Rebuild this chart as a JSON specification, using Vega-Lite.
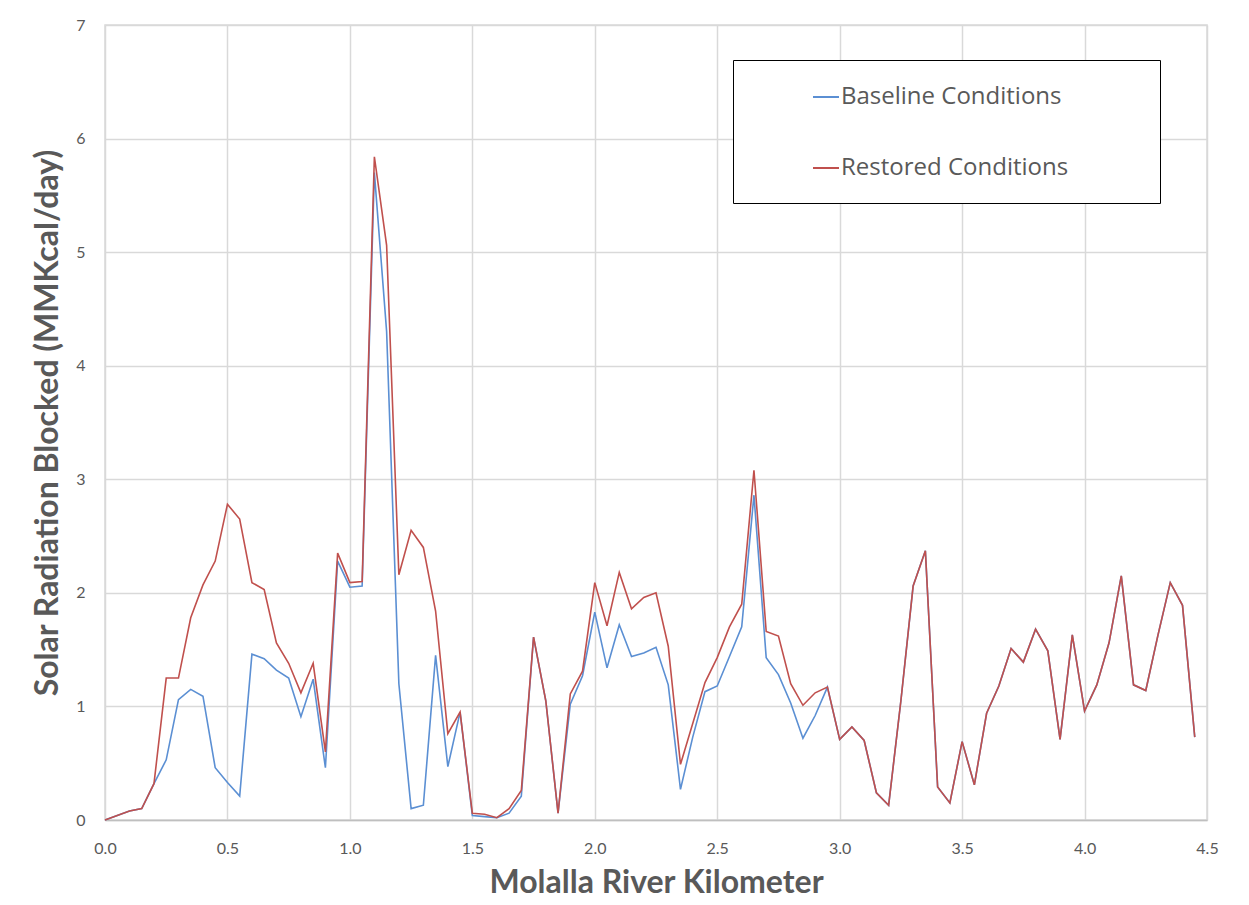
{
  "$schema": "https://vega.github.io/schema/vega-lite/v6.json",
  "autosize": "none",
  "width": 1102,
  "height": 795,
  "padding": {"left": 105, "top": 25, "right": 42, "bottom": 85},
  "background": "white",
  "data": {
    "values": [
      {"km": 0.00, "Baseline Conditions": 0.00, "Restored Conditions": 0.00},
      {"km": 0.05, "Baseline Conditions": 0.04, "Restored Conditions": 0.04},
      {"km": 0.10, "Baseline Conditions": 0.08, "Restored Conditions": 0.08},
      {"km": 0.15, "Baseline Conditions": 0.10, "Restored Conditions": 0.10},
      {"km": 0.20, "Baseline Conditions": 0.32, "Restored Conditions": 0.32},
      {"km": 0.25, "Baseline Conditions": 0.53, "Restored Conditions": 1.25},
      {"km": 0.30, "Baseline Conditions": 1.06, "Restored Conditions": 1.25},
      {"km": 0.35, "Baseline Conditions": 1.15, "Restored Conditions": 1.78},
      {"km": 0.40, "Baseline Conditions": 1.09, "Restored Conditions": 2.07},
      {"km": 0.45, "Baseline Conditions": 0.46, "Restored Conditions": 2.28},
      {"km": 0.50, "Baseline Conditions": 0.33, "Restored Conditions": 2.78},
      {"km": 0.55, "Baseline Conditions": 0.21, "Restored Conditions": 2.65},
      {"km": 0.60, "Baseline Conditions": 1.46, "Restored Conditions": 2.09},
      {"km": 0.65, "Baseline Conditions": 1.42, "Restored Conditions": 2.03},
      {"km": 0.70, "Baseline Conditions": 1.32, "Restored Conditions": 1.56},
      {"km": 0.75, "Baseline Conditions": 1.25, "Restored Conditions": 1.38},
      {"km": 0.80, "Baseline Conditions": 0.91, "Restored Conditions": 1.12},
      {"km": 0.85, "Baseline Conditions": 1.24, "Restored Conditions": 1.38},
      {"km": 0.90, "Baseline Conditions": 0.46, "Restored Conditions": 0.60},
      {"km": 0.95, "Baseline Conditions": 2.28, "Restored Conditions": 2.35},
      {"km": 1.00, "Baseline Conditions": 2.05, "Restored Conditions": 2.09},
      {"km": 1.05, "Baseline Conditions": 2.06, "Restored Conditions": 2.10},
      {"km": 1.10, "Baseline Conditions": 5.70, "Restored Conditions": 5.84},
      {"km": 1.15, "Baseline Conditions": 4.30, "Restored Conditions": 5.06},
      {"km": 1.20, "Baseline Conditions": 1.20, "Restored Conditions": 2.16},
      {"km": 1.25, "Baseline Conditions": 0.10, "Restored Conditions": 2.55},
      {"km": 1.30, "Baseline Conditions": 0.13, "Restored Conditions": 2.40},
      {"km": 1.35, "Baseline Conditions": 1.45, "Restored Conditions": 1.84},
      {"km": 1.40, "Baseline Conditions": 0.47, "Restored Conditions": 0.76},
      {"km": 1.45, "Baseline Conditions": 0.95, "Restored Conditions": 0.95},
      {"km": 1.50, "Baseline Conditions": 0.04, "Restored Conditions": 0.06},
      {"km": 1.55, "Baseline Conditions": 0.03, "Restored Conditions": 0.05},
      {"km": 1.60, "Baseline Conditions": 0.02, "Restored Conditions": 0.02},
      {"km": 1.65, "Baseline Conditions": 0.06, "Restored Conditions": 0.10},
      {"km": 1.70, "Baseline Conditions": 0.21, "Restored Conditions": 0.26},
      {"km": 1.75, "Baseline Conditions": 1.61, "Restored Conditions": 1.61},
      {"km": 1.80, "Baseline Conditions": 1.05, "Restored Conditions": 1.05},
      {"km": 1.85, "Baseline Conditions": 0.06, "Restored Conditions": 0.06},
      {"km": 1.90, "Baseline Conditions": 1.02, "Restored Conditions": 1.11},
      {"km": 1.95, "Baseline Conditions": 1.27, "Restored Conditions": 1.31},
      {"km": 2.00, "Baseline Conditions": 1.83, "Restored Conditions": 2.09},
      {"km": 2.05, "Baseline Conditions": 1.34, "Restored Conditions": 1.71},
      {"km": 2.10, "Baseline Conditions": 1.72, "Restored Conditions": 2.18},
      {"km": 2.15, "Baseline Conditions": 1.44, "Restored Conditions": 1.86},
      {"km": 2.20, "Baseline Conditions": 1.47, "Restored Conditions": 1.96},
      {"km": 2.25, "Baseline Conditions": 1.52, "Restored Conditions": 2.00},
      {"km": 2.30, "Baseline Conditions": 1.19, "Restored Conditions": 1.53},
      {"km": 2.35, "Baseline Conditions": 0.27, "Restored Conditions": 0.49},
      {"km": 2.40, "Baseline Conditions": 0.73, "Restored Conditions": 0.85},
      {"km": 2.45, "Baseline Conditions": 1.13, "Restored Conditions": 1.21},
      {"km": 2.50, "Baseline Conditions": 1.18, "Restored Conditions": 1.43},
      {"km": 2.55, "Baseline Conditions": 1.44, "Restored Conditions": 1.70},
      {"km": 2.60, "Baseline Conditions": 1.70, "Restored Conditions": 1.90},
      {"km": 2.65, "Baseline Conditions": 2.86, "Restored Conditions": 3.08},
      {"km": 2.70, "Baseline Conditions": 1.43, "Restored Conditions": 1.66},
      {"km": 2.75, "Baseline Conditions": 1.28, "Restored Conditions": 1.62},
      {"km": 2.80, "Baseline Conditions": 1.03, "Restored Conditions": 1.20},
      {"km": 2.85, "Baseline Conditions": 0.72, "Restored Conditions": 1.01},
      {"km": 2.90, "Baseline Conditions": 0.92, "Restored Conditions": 1.12},
      {"km": 2.95, "Baseline Conditions": 1.17, "Restored Conditions": 1.17},
      {"km": 3.00, "Baseline Conditions": 0.71, "Restored Conditions": 0.71},
      {"km": 3.05, "Baseline Conditions": 0.82, "Restored Conditions": 0.82},
      {"km": 3.10, "Baseline Conditions": 0.70, "Restored Conditions": 0.70},
      {"km": 3.15, "Baseline Conditions": 0.24, "Restored Conditions": 0.24},
      {"km": 3.20, "Baseline Conditions": 0.13, "Restored Conditions": 0.13},
      {"km": 3.25, "Baseline Conditions": 1.05, "Restored Conditions": 1.05},
      {"km": 3.30, "Baseline Conditions": 2.06, "Restored Conditions": 2.06},
      {"km": 3.35, "Baseline Conditions": 2.37, "Restored Conditions": 2.37},
      {"km": 3.40, "Baseline Conditions": 0.29, "Restored Conditions": 0.29},
      {"km": 3.45, "Baseline Conditions": 0.15, "Restored Conditions": 0.15},
      {"km": 3.50, "Baseline Conditions": 0.69, "Restored Conditions": 0.69},
      {"km": 3.55, "Baseline Conditions": 0.31, "Restored Conditions": 0.31},
      {"km": 3.60, "Baseline Conditions": 0.94, "Restored Conditions": 0.94},
      {"km": 3.65, "Baseline Conditions": 1.18, "Restored Conditions": 1.18},
      {"km": 3.70, "Baseline Conditions": 1.51, "Restored Conditions": 1.51},
      {"km": 3.75, "Baseline Conditions": 1.39, "Restored Conditions": 1.39},
      {"km": 3.80, "Baseline Conditions": 1.68, "Restored Conditions": 1.68},
      {"km": 3.85, "Baseline Conditions": 1.49, "Restored Conditions": 1.49},
      {"km": 3.90, "Baseline Conditions": 0.71, "Restored Conditions": 0.71},
      {"km": 3.95, "Baseline Conditions": 1.63, "Restored Conditions": 1.63},
      {"km": 4.00, "Baseline Conditions": 0.96, "Restored Conditions": 0.96},
      {"km": 4.05, "Baseline Conditions": 1.19, "Restored Conditions": 1.19},
      {"km": 4.10, "Baseline Conditions": 1.56, "Restored Conditions": 1.56},
      {"km": 4.15, "Baseline Conditions": 2.15, "Restored Conditions": 2.15},
      {"km": 4.20, "Baseline Conditions": 1.19, "Restored Conditions": 1.19},
      {"km": 4.25, "Baseline Conditions": 1.14, "Restored Conditions": 1.14},
      {"km": 4.30, "Baseline Conditions": 1.63, "Restored Conditions": 1.63},
      {"km": 4.35, "Baseline Conditions": 2.09, "Restored Conditions": 2.09},
      {"km": 4.40, "Baseline Conditions": 1.89, "Restored Conditions": 1.89},
      {"km": 4.45, "Baseline Conditions": 0.73, "Restored Conditions": 0.73}
    ]
  },
  "transform": [
    {"fold": ["Baseline Conditions", "Restored Conditions"], "as": ["series", "value"]}
  ],
  "mark": {"type": "line", "strokeWidth": 1.6, "interpolate": "linear"},
  "encoding": {
    "x": {
      "field": "km",
      "type": "quantitative",
      "scale": {"domain": [0, 4.5], "nice": false, "zero": false},
      "axis": {
        "title": "Molalla River Kilometer",
        "values": [0, 0.5, 1, 1.5, 2, 2.5, 3, 3.5, 4, 4.5],
        "format": ".1f",
        "labelFlush": false,
        "labelFont": "Lato",
        "labelFontSize": 16,
        "labelColor": "#595959",
        "labelPadding": 20,
        "ticks": false,
        "domainColor": "#BFBFBF",
        "domainWidth": 1.5,
        "gridColor": "#D9D9D9",
        "gridWidth": 1.5,
        "titleFont": "Lato",
        "titleFontSize": 32,
        "titleFontWeight": "bold",
        "titleColor": "#595959",
        "titlePadding": 11
      }
    },
    "y": {
      "field": "value",
      "type": "quantitative",
      "scale": {"domain": [0, 7], "nice": false},
      "axis": {
        "title": "Solar Radiation Blocked (MMKcal/day)",
        "values": [0, 1, 2, 3, 4, 5, 6, 7],
        "labelFont": "Lato",
        "labelFontSize": 16,
        "labelColor": "#595959",
        "labelPadding": 20,
        "ticks": false,
        "domain": false,
        "gridColor": "#D9D9D9",
        "gridWidth": 1.5,
        "titleFont": "Lato",
        "titleFontSize": 32,
        "titleFontWeight": "bold",
        "titleColor": "#595959",
        "titlePadding": 11
      }
    },
    "color": {
      "field": "series",
      "type": "nominal",
      "scale": {
        "domain": ["Baseline Conditions", "Restored Conditions"],
        "range": ["#5B8FD3", "#C0504D"]
      },
      "legend": {
        "title": null,
        "orient": "none",
        "legendX": 628,
        "legendY": 35,
        "direction": "vertical",
        "strokeColor": "#000000",
        "fillColor": "#FFFFFF",
        "padding": 23,
        "symbolType": "stroke",
        "symbolSize": 676,
        "symbolStrokeWidth": 2,
        "symbolOffset": 56,
        "labelFont": "Open Sans",
        "labelFontSize": 24,
        "labelColor": "#595959",
        "labelOffset": 1,
        "labelLimit": 600,
        "labelExpr": "datum.label + '\u00a0\u00a0\u00a0\u00a0\u00a0\u00a0\u00a0\u00a0\u00a0\u00a0\u00a0\u200b'",
        "rowPadding": 45
      }
    }
  },
  "config": {
    "view": {"stroke": "#D9D9D9", "strokeWidth": 1.5}
  }
}
